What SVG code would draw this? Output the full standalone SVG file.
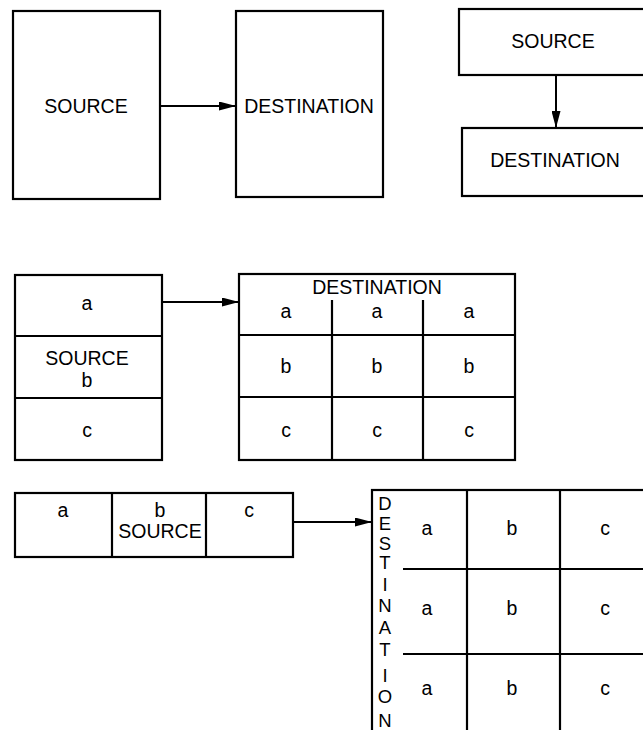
<svg xmlns="http://www.w3.org/2000/svg" width="643" height="730" viewBox="0 0 643 730">
<defs>
<marker id="ah" markerWidth="17" markerHeight="9" refX="17" refY="4.5" orient="auto" markerUnits="userSpaceOnUse">
<path d="M0,0 L17,4.5 L0,9 Z" fill="#000"/>
</marker>
<style>
.box{fill:#fff;stroke:#000;stroke-width:2.2}
.ln{stroke:#000;stroke-width:2.2;fill:none}
.t{font-family:"Liberation Sans",Arial,sans-serif;font-size:19.5px;fill:#000;text-anchor:middle}
.v{font-family:"Liberation Sans",Arial,sans-serif;font-size:18.5px;fill:#000;text-anchor:middle}
.con{stroke:#000;stroke-width:2;fill:none;marker-end:url(#ah)}
</style>
</defs>
<rect width="643" height="730" fill="#fff"/>

<g id="src1">
<rect class="box" x="13" y="11" width="147" height="188"/>
<text class="t" x="86" y="113">SOURCE</text>
</g>
<g id="dst1">
<rect class="box" x="236" y="11" width="147" height="186"/>
<text class="t" x="309" y="113">DESTINATION</text>
</g>

<g id="src2">
<rect class="box" x="459" y="9" width="190" height="66"/>
<text class="t" x="553" y="48">SOURCE</text>
</g>
<g id="dst2">
<rect class="box" x="462" y="128" width="190" height="68"/>
<text class="t" x="555" y="167">DESTINATION</text>
</g>

<g id="src3">
<rect class="box" x="15" y="275" width="147" height="185"/>
<line class="ln" x1="15" y1="336" x2="162" y2="336"/>
<line class="ln" x1="15" y1="398" x2="162" y2="398"/>
<text class="t" x="87" y="310">a</text>
<text class="t" x="87" y="365">SOURCE</text>
<text class="t" x="87" y="387">b</text>
<text class="t" x="87" y="437">c</text>
</g>
<g id="dst3">
<rect class="box" x="239" y="274" width="276" height="186"/>
<line class="ln" x1="239" y1="335" x2="515" y2="335"/>
<line class="ln" x1="239" y1="397" x2="515" y2="397"/>
<line class="ln" x1="332" y1="300" x2="332" y2="460"/>
<line class="ln" x1="423" y1="300" x2="423" y2="460"/>
<text class="t" x="377" y="294">DESTINATION</text>
<text class="t" x="286" y="318">a</text>
<text class="t" x="377" y="318">a</text>
<text class="t" x="469" y="318">a</text>
<text class="t" x="286" y="373">b</text>
<text class="t" x="377" y="373">b</text>
<text class="t" x="469" y="373">b</text>
<text class="t" x="286" y="437">c</text>
<text class="t" x="377" y="437">c</text>
<text class="t" x="469" y="437">c</text>
</g>

<g id="src4">
<rect class="box" x="15" y="493" width="278" height="64"/>
<line class="ln" x1="112" y1="493" x2="112" y2="557"/>
<line class="ln" x1="206" y1="493" x2="206" y2="557"/>
<text class="t" x="63" y="517">a</text>
<text class="t" x="160" y="517">b</text>
<text class="t" x="160" y="538">SOURCE</text>
<text class="t" x="249" y="517">c</text>
</g>
<g id="dst4">
<rect class="box" x="372" y="490" width="290" height="260"/>
<line class="ln" x1="403" y1="569" x2="650" y2="569"/>
<line class="ln" x1="403" y1="654" x2="650" y2="654"/>
<line class="ln" x1="467" y1="490" x2="467" y2="740"/>
<line class="ln" x1="560" y1="490" x2="560" y2="740"/>
<text class="v" x="385" y="510">D</text>
<text class="v" x="385" y="530">E</text>
<text class="v" x="385" y="550">S</text>
<text class="v" x="385" y="569">T</text>
<text class="v" x="385" y="591">I</text>
<text class="v" x="385" y="612">N</text>
<text class="v" x="385" y="634">A</text>
<text class="v" x="385" y="656">T</text>
<text class="v" x="385" y="682">I</text>
<text class="v" x="385" y="703">O</text>
<text class="v" x="385" y="727">N</text>
<text class="t" x="427" y="535">a</text>
<text class="t" x="512" y="535">b</text>
<text class="t" x="605" y="535">c</text>
<text class="t" x="427" y="615">a</text>
<text class="t" x="512" y="615">b</text>
<text class="t" x="605" y="615">c</text>
<text class="t" x="427" y="695">a</text>
<text class="t" x="512" y="695">b</text>
<text class="t" x="605" y="695">c</text>
</g>

<g id="connectors">
<line class="con" x1="161" y1="106" x2="236" y2="106"/>
<line class="con" x1="556" y1="76" x2="556" y2="128"/>
<line class="con" x1="163" y1="302" x2="239" y2="302"/>
<line class="con" x1="294" y1="522" x2="372" y2="522"/>
</g>
</svg>
